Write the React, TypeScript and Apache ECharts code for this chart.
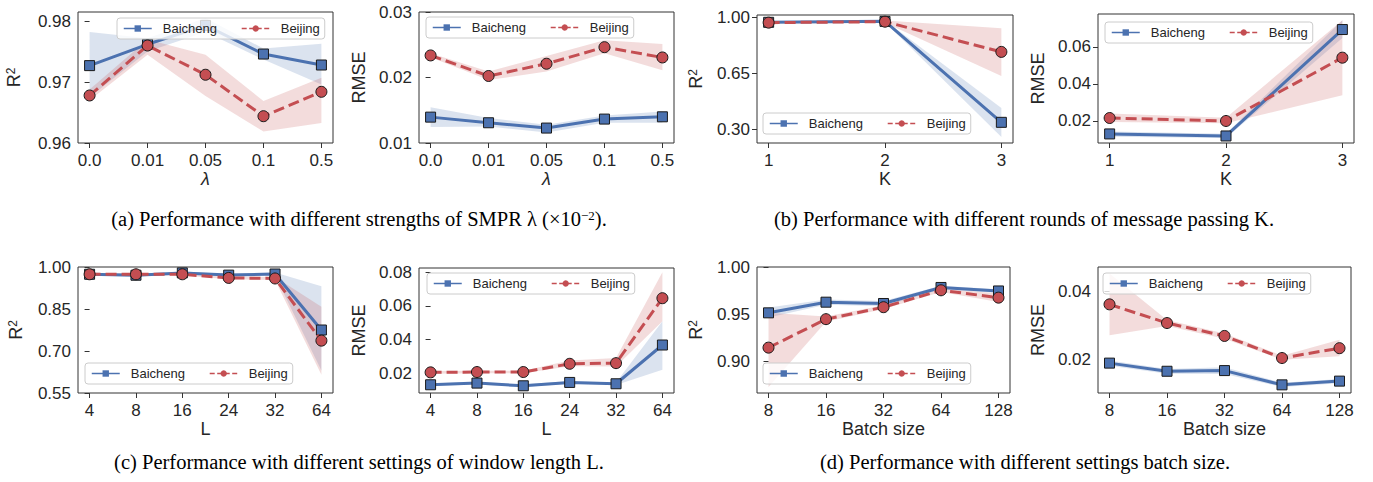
import React, { useEffect, useRef } from 'react';
import * as echarts from 'echarts';

const BLUE = '#4C72B0';
const RED = '#C44E52';
const BLUE_BAND = 'rgba(76,114,176,0.2)';
const RED_BAND = 'rgba(196,78,82,0.2)';
const AX = '#333333';
const TXT = '#262626';
const FONT = '"Liberation Sans", Arial, sans-serif';
const SERIF = '"Liberation Serif", "Times New Roman", serif';

// ---- tick / category labels ----
const lambdaLabels = ['0.0', '0.01', '0.05', '0.1', '0.5'];
const kValues = [1, 2, 3];
const lLabels = ['4', '8', '16', '24', '32', '64'];
const batchLabels = ['8', '16', '32', '64', '128'];

// ---- (a) lambda ----
const r2LamB = [0.9727, 0.9762, 0.9793, 0.9746, 0.9728];
const r2LamBLo = [0.9675, 0.9750, 0.9782, 0.9737, 0.9696];
const r2LamBHi = [0.9782, 0.9772, 0.9805, 0.9755, 0.9763];
const r2LamJ = [0.9678, 0.9760, 0.9712, 0.9644, 0.9684];
const r2LamJLo = [0.9670, 0.9745, 0.9677, 0.9619, 0.9633];
const r2LamJHi = [0.9688, 0.9770, 0.9745, 0.9669, 0.9707];

const rmseLamB = [0.01395, 0.01309, 0.01228, 0.01365, 0.0140];
const rmseLamBLo = [0.01243, 0.01253, 0.0116, 0.0131, 0.0131];
const rmseLamBHi = [0.01547, 0.0138, 0.0128, 0.0142, 0.0148];
const rmseLamJ = [0.02337, 0.02023, 0.0221, 0.02463, 0.02306];
const rmseLamJLo = [0.0231, 0.0196, 0.0209, 0.0237, 0.0211];
const rmseLamJHi = [0.0237, 0.0209, 0.0233, 0.0257, 0.0251];

// ---- (b) K ----
const r2KB = [0.971, 0.977, 0.342];
const r2KBLo = [0.966, 0.972, 0.25];
const r2KBHi = [0.976, 0.982, 0.432];
const r2KJ = [0.969, 0.975, 0.785];
const r2KJLo = [0.962, 0.968, 0.633];
const r2KJHi = [0.976, 0.982, 0.933];

const rmseKB = [0.0130, 0.0119, 0.0694];
const rmseKBLo = [0.0115, 0.0108, 0.0649];
const rmseKBHi = [0.0143, 0.0131, 0.0744];
const rmseKJ = [0.0216, 0.0200, 0.0542];
const rmseKJLo = [0.0195, 0.0188, 0.0339];
const rmseKJHi = [0.0240, 0.0218, 0.0744];

// ---- (c) L ----
const r2LB = [0.974, 0.9706, 0.979, 0.971, 0.975, 0.775];
const r2LBLo = [0.970, 0.966, 0.974, 0.966, 0.970, 0.630];
const r2LBHi = [0.978, 0.975, 0.984, 0.976, 0.980, 0.931];
const r2LJ = [0.974, 0.974, 0.974, 0.961, 0.959, 0.737];
const r2LJLo = [0.970, 0.970, 0.970, 0.956, 0.954, 0.615];
const r2LJHi = [0.978, 0.978, 0.978, 0.966, 0.964, 0.858];

const rmseLB = [0.0130, 0.0140, 0.0124, 0.0144, 0.0136, 0.0367];
const rmseLBLo = [0.0122, 0.0132, 0.0117, 0.0136, 0.0128, 0.0220];
const rmseLBHi = [0.0138, 0.0148, 0.0131, 0.0152, 0.0144, 0.0508];
const rmseLJ = [0.0204, 0.0206, 0.0206, 0.0255, 0.0259, 0.0646];
const rmseLJLo = [0.0196, 0.0198, 0.0198, 0.0240, 0.0239, 0.0508];
const rmseLJHi = [0.0212, 0.0214, 0.0214, 0.0275, 0.0289, 0.0800];

// ---- (d) batch size ----
const r2BatB = [0.9514, 0.9627, 0.9613, 0.9783, 0.9746];
const r2BatBLo = [0.9465, 0.9600, 0.9585, 0.9765, 0.9725];
const r2BatBHi = [0.9570, 0.9655, 0.9640, 0.9800, 0.9765];
const r2BatJ = [0.9145, 0.9447, 0.9574, 0.9753, 0.9675];
const r2BatJLo = [0.8728, 0.9420, 0.9555, 0.9735, 0.9630];
const r2BatJHi = [0.9514, 0.9475, 0.9595, 0.9770, 0.9720];

const rmseBatB = [0.0188, 0.0164, 0.0166, 0.0124, 0.0135];
const rmseBatBLo = [0.0180, 0.0157, 0.0156, 0.0118, 0.0129];
const rmseBatBHi = [0.0196, 0.0171, 0.0176, 0.0130, 0.0141];
const rmseBatJ = [0.0361, 0.0306, 0.0268, 0.0203, 0.0232];
const rmseBatJLo = [0.0270, 0.0297, 0.0260, 0.0198, 0.0208];
const rmseBatJHi = [0.0452, 0.0315, 0.0275, 0.0210, 0.0257];

const captions = [
  { label: '(a) Performance with different strengths of SMPR λ (×10', sup: '−2', tail: ').', x: 359, y: 219 },
  { label: '(b) Performance with different rounds of message passing K.', x: 1024, y: 219 },
  { label: '(c) Performance with different settings of window length L.', x: 359, y: 462 },
  { label: '(d) Performance with different settings batch size.', x: 1025, y: 462 },
];

const idx = (arr: any[]) => arr.map((_, i) => i);

type Panel = {
  grid: number[];
  xs: number[];
  xLabels: string[];
  xMin: number;
  xMax: number;
  xName: string;
  italic?: boolean;
  yMin: number;
  yMax: number;
  yTicks: number[];
  r2: boolean;
  nameGap: number;
  b: number[]; bLo: number[]; bHi: number[];
  j: number[]; jLo: number[]; jHi: number[];
  legend: number[];
};

const panels: Panel[] = [
  { grid: [78, 12, 255, 131], xs: idx(lambdaLabels), xLabels: lambdaLabels, xMin: -0.2, xMax: 4.2, xName: 'λ', italic: true,
    yMin: 0.96, yMax: 0.9815, yTicks: [0.96, 0.97, 0.98], r2: true, nameGap: 55,
    b: r2LamB, bLo: r2LamBLo, bHi: r2LamBHi, j: r2LamJ, jLo: r2LamJLo, jHi: r2LamJHi, legend: [117, 18] },
  { grid: [419, 12, 255, 131], xs: idx(lambdaLabels), xLabels: lambdaLabels, xMin: -0.2, xMax: 4.2, xName: 'λ', italic: true,
    yMin: 0.01, yMax: 0.03, yTicks: [0.01, 0.02, 0.03], r2: false, nameGap: 51,
    b: rmseLamB, bLo: rmseLamBLo, bHi: rmseLamBHi, j: rmseLamJ, jLo: rmseLamJLo, jHi: rmseLamJHi, legend: [426, 17] },
  { grid: [757, 15, 256, 128], xs: kValues, xLabels: kValues.map(String), xMin: 0.9, xMax: 3.1, xName: 'K',
    yMin: 0.212, yMax: 1.017, yTicks: [0.30, 0.65, 1.00], r2: true, nameGap: 52,
    b: r2KB, bLo: r2KBLo, bHi: r2KBHi, j: r2KJ, jLo: r2KJLo, jHi: r2KJHi, legend: [763, 113] },
  { grid: [1098, 14, 256, 129], xs: kValues, xLabels: kValues.map(String), xMin: 0.9, xMax: 3.1, xName: 'K',
    yMin: 0.0081, yMax: 0.0778, yTicks: [0.02, 0.04, 0.06], r2: false, nameGap: 51,
    b: rmseKB, bLo: rmseKBLo, bHi: rmseKBHi, j: rmseKJ, jLo: rmseKJLo, jHi: rmseKJHi, legend: [1105, 22] },
  { grid: [78, 267, 255, 126], xs: idx(lLabels), xLabels: lLabels, xMin: -0.25, xMax: 5.25, xName: 'L',
    yMin: 0.55, yMax: 1.0, yTicks: [0.55, 0.70, 0.85, 1.00], r2: true, nameGap: 53,
    b: r2LB, bLo: r2LBLo, bHi: r2LBHi, j: r2LJ, jLo: r2LJLo, jHi: r2LJHi, legend: [85, 363] },
  { grid: [419, 268, 255, 125], xs: idx(lLabels), xLabels: lLabels, xMin: -0.25, xMax: 5.25, xName: 'L',
    yMin: 0.0081, yMax: 0.0826, yTicks: [0.02, 0.04, 0.06, 0.08], r2: false, nameGap: 51,
    b: rmseLB, bLo: rmseLBLo, bHi: rmseLBHi, j: rmseLJ, jLo: rmseLJLo, jHi: rmseLJHi, legend: [427, 273] },
  { grid: [757, 267, 253, 126], xs: idx(batchLabels), xLabels: batchLabels, xMin: -0.2, xMax: 4.2, xName: 'Batch size',
    yMin: 0.8664, yMax: 1.0, yTicks: [0.90, 0.95, 1.00], r2: true, nameGap: 52,
    b: r2BatB, bLo: r2BatBLo, bHi: r2BatBHi, j: r2BatJ, jLo: r2BatJLo, jHi: r2BatJHi, legend: [763, 363] },
  { grid: [1098, 267, 253, 126], xs: idx(batchLabels), xLabels: batchLabels, xMin: -0.2, xMax: 4.2, xName: 'Batch size',
    yMin: 0.0100, yMax: 0.0471, yTicks: [0.02, 0.04], r2: false, nameGap: 51,
    b: rmseBatB, bLo: rmseBatBLo, bHi: rmseBatBHi, j: rmseBatJ, jLo: rmseBatJLo, jHi: rmseBatJHi, legend: [1103, 273] },
];

function band(gi: number, xs: number[], lo: number[], hi: number[], color: string) {
  return {
    type: 'custom',
    name: 'band' + gi + color,
    xAxisIndex: gi,
    yAxisIndex: gi,
    silent: true,
    z: 1,
    data: xs.map((x, i) => [x, lo[i], hi[i]]),
    encode: { x: 0, y: [1, 2] },
    renderItem: (params: any, api: any) => {
      if (params.dataIndex !== 0) return null;
      const top = xs.map((x, i) => api.coord([x, hi[i]]));
      const bot = xs.map((x, i) => api.coord([x, lo[i]])).reverse();
      return { type: 'polygon', shape: { points: top.concat(bot) }, style: { fill: color }, silent: true };
    },
  };
}

function buildOption() {
  const grid: any[] = [];
  const xAxis: any[] = [];
  const yAxis: any[] = [];
  const series: any[] = [];
  const legend: any[] = [];

  panels.forEach((p, gi) => {
    grid.push({
      left: p.grid[0], top: p.grid[1], width: p.grid[2], height: p.grid[3],
      show: true, borderColor: AX, borderWidth: 1, backgroundColor: 'transparent', containLabel: false,
    });
    xAxis.push({
      type: 'value', gridIndex: gi, min: p.xMin, max: p.xMax,
      axisLine: { show: false }, splitLine: { show: false },
      axisTick: { show: true, length: 5, lineStyle: { color: AX, width: 1 }, customValues: p.xs },
      axisLabel: {
        customValues: p.xs, margin: 9, fontSize: 17, color: TXT, fontFamily: FONT,
        formatter: (v: number) => p.xLabels[p.xs.indexOf(v)] ?? '',
      },
      name: p.xName, nameLocation: 'middle', nameGap: 27,
      nameTextStyle: { fontSize: 18, color: TXT, fontFamily: FONT, fontStyle: p.italic ? 'italic' : 'normal' },
    });
    yAxis.push({
      type: 'value', gridIndex: gi, min: p.yMin, max: p.yMax,
      axisLine: { show: false }, splitLine: { show: false },
      axisTick: { show: true, length: 5, lineStyle: { color: AX, width: 1 }, customValues: p.yTicks },
      axisLabel: {
        customValues: p.yTicks, margin: 7, fontSize: 17, color: TXT, fontFamily: FONT,
        formatter: (v: number) => v.toFixed(2),
      },
      name: p.r2 ? '{r|R}{s|2}' : 'RMSE', nameLocation: 'middle', nameGap: p.nameGap,
      nameTextStyle: {
        fontSize: 18, color: TXT, fontFamily: FONT,
        rich: {
          r: { fontSize: 18, color: TXT, fontFamily: FONT },
          s: { fontSize: 12, color: TXT, fontFamily: FONT, verticalAlign: 'top' },
        },
      },
    });
    series.push(band(gi, p.xs, p.bLo, p.bHi, BLUE_BAND));
    series.push(band(gi, p.xs, p.jLo, p.jHi, RED_BAND));
    series.push({
      type: 'line', name: 'Baicheng', xAxisIndex: gi, yAxisIndex: gi, z: 3,
      data: p.xs.map((x, i) => [x, p.b[i]]),
      symbol: 'rect', symbolSize: 10,
      lineStyle: { color: BLUE, width: 3 },
      itemStyle: { color: BLUE, borderColor: '#1a1a1a', borderWidth: 1 },
    });
    series.push({
      type: 'line', name: 'Beijing', xAxisIndex: gi, yAxisIndex: gi, z: 4,
      data: p.xs.map((x, i) => [x, p.j[i]]),
      symbol: 'circle', symbolSize: 11,
      lineStyle: { color: RED, width: 3, type: [11, 5] },
      itemStyle: { color: RED, borderColor: '#1a1a1a', borderWidth: 1 },
    });
    legend.push({
      left: p.legend[0], top: p.legend[1],
      orient: 'horizontal',
      padding: [4, 5, 4, 6],
      itemGap: 24, itemWidth: 28, itemHeight: 8,
      backgroundColor: 'rgba(255,255,255,0.8)',
      borderColor: '#cccccc', borderWidth: 1, borderRadius: 3,
      selectedMode: false,
      textStyle: { fontSize: 13, color: TXT, fontFamily: FONT, padding: [0, 0, 0, 6] },
      itemStyle: { borderWidth: 0 },
      lineStyle: { width: 1.5 },
      data: [
        { name: 'Baicheng', lineStyle: { width: 1.5, type: 'solid' }, itemStyle: { borderWidth: 0 } },
        { name: 'Beijing', lineStyle: { width: 1.5, type: [5, 2.5] }, itemStyle: { borderWidth: 0 } },
      ],
    });
  });

  const graphic = captions.map((c) => ({
    type: 'text', x: c.x, y: c.y,
    style: {
      text: c.sup ? `{n|${c.label}}{s|${c.sup}}{n|${c.tail}}` : `{n|${c.label}}`,
      align: 'center', verticalAlign: 'middle',
      rich: {
        n: { fontSize: 20.5, fontFamily: SERIF, fill: '#000' },
        s: { fontSize: 13, fontFamily: SERIF, fill: '#000', verticalAlign: 'top' },
      },
    },
  }));

  return { animation: false, backgroundColor: '#fff', grid, xAxis, yAxis, series, legend, graphic };
}

export default function App() {
  const ref = useRef<HTMLDivElement>(null);
  useEffect(() => {
    const chart = echarts.init(ref.current!, null, { renderer: 'svg' });
    chart.setOption(buildOption() as any);
    return () => chart.dispose();
  }, []);
  return <div ref={ref} style={{ position: 'absolute', left: 0, top: 0, width: 1373, height: 482 }} />;
}
